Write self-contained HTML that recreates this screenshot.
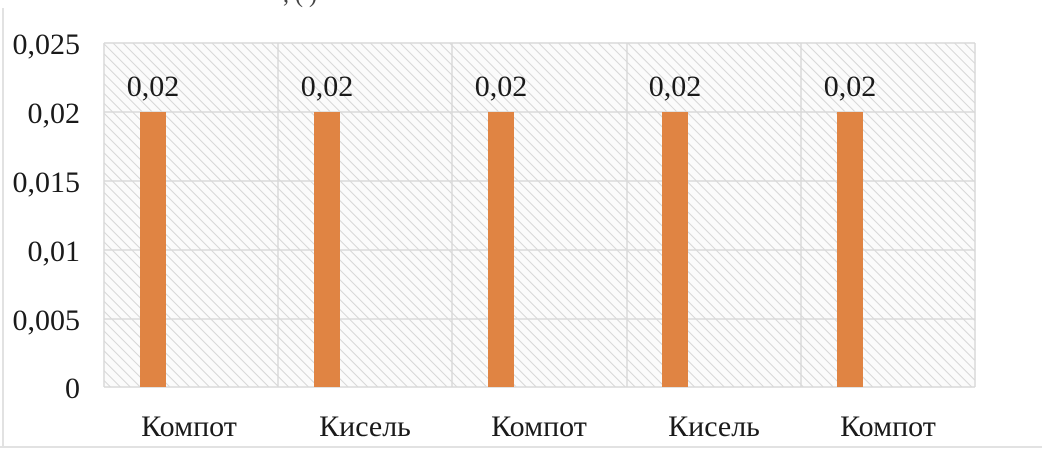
<!DOCTYPE html>
<html><head><meta charset="utf-8"><style>
html,body{margin:0;padding:0;background:#fff;}
svg{display:block;font-family:"Liberation Serif","DejaVu Serif",serif;}
</style></head><body>
<svg width="1042" height="450" viewBox="0 0 1042 450" xmlns="http://www.w3.org/2000/svg">
<defs>
<pattern id="h" patternUnits="userSpaceOnUse" width="7" height="7" patternTransform="rotate(-45)">
<rect width="7" height="7" fill="#fbfbfb"/>
<line x1="0" y1="0" x2="0" y2="7" stroke="#d6d6d6" stroke-width="2"/>
</pattern>
</defs>
<rect x="0" y="0" width="1042" height="450" fill="#fff"/>
<line x1="3" y1="8" x2="3" y2="448" stroke="#e2e2e2" stroke-width="2"/>
<line x1="0" y1="447" x2="1042" y2="447" stroke="#e2e2e2" stroke-width="2"/>
<text x="300" y="2" font-size="24" fill="#444" text-anchor="middle">, ( )</text>
<rect x="104" y="43" width="871" height="344" fill="url(#h)"/>
<g stroke="#d9d9d9" stroke-width="1.5" fill="none">
<line x1="104" y1="43" x2="975" y2="43"/>
<line x1="104" y1="112" x2="975" y2="112"/>
<line x1="104" y1="181" x2="975" y2="181"/>
<line x1="104" y1="250" x2="975" y2="250"/>
<line x1="104" y1="319" x2="975" y2="319"/>
<line x1="104" y1="387" x2="975" y2="387"/>
<line x1="104" y1="43" x2="104" y2="387"/>
<line x1="278" y1="43" x2="278" y2="387"/>
<line x1="452" y1="43" x2="452" y2="387"/>
<line x1="627" y1="43" x2="627" y2="387"/>
<line x1="801" y1="43" x2="801" y2="387"/>
<line x1="975" y1="43" x2="975" y2="387"/>
</g>
<g fill="#e08443">
<rect x="140" y="112" width="26" height="275"/>
<rect x="314" y="112" width="26" height="275"/>
<rect x="488" y="112" width="26" height="275"/>
<rect x="662" y="112" width="26" height="275"/>
<rect x="837" y="112" width="26" height="275"/>
</g>
<g font-size="30" fill="#1a1a1a" text-anchor="middle">
<text x="153" y="96">0,02</text>
<text x="327" y="96">0,02</text>
<text x="501" y="96">0,02</text>
<text x="675" y="96">0,02</text>
<text x="850" y="96">0,02</text>
</g>
<g font-size="30" fill="#1a1a1a" text-anchor="end">
<text x="80" y="54">0,025</text>
<text x="80" y="123">0,02</text>
<text x="80" y="192">0,015</text>
<text x="80" y="261">0,01</text>
<text x="80" y="330">0,005</text>
<text x="80" y="398">0</text>
</g>
<g font-size="30" fill="#1a1a1a" text-anchor="middle">
<text x="189" y="436">Компот</text>
<text x="365" y="436">Кисель</text>
<text x="539" y="436">Компот</text>
<text x="714" y="436">Кисель</text>
<text x="888" y="436">Компот</text>
</g>
</svg>
</body></html>
